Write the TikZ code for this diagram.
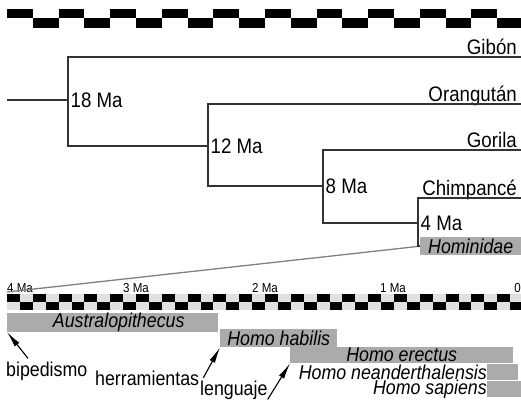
\documentclass[tikz,border=0pt]{standalone}
\usepackage{fontspec}
\setmainfont{Liberation Sans}[FakeStretch=0.89]
\usetikzlibrary{arrows.meta}

\begin{document}
\begin{tikzpicture}[x=1pt, y=-1pt,
  branch/.style={draw=black!80, line width=1.8pt},
  taxon/.style={anchor=base east, inner sep=0pt, xshift=-4pt, yshift=3pt, font=\fontsize{21}{21}\selectfont},
  age/.style={anchor=west, inner sep=2.5pt, font=\fontsize{21}{21}\selectfont},
  tick/.style={inner sep=0pt, font=\fontsize{13}{13}\selectfont},
  spanbar/.style={fill=black!33, inner sep=0pt, anchor=north west, font=\fontsize{20}{20}\selectfont\itshape},
  spname/.style={inner sep=0pt, anchor=east, font=\fontsize{20}{20}\selectfont\itshape},
  trait/.style={anchor=base west, inner sep=0pt, font=\fontsize{20}{20}\selectfont},
  pointer/.style={-{Latex[length=16pt,width=6pt]}, line width=1.1pt},
  zoomline/.style={draw=black!50, line width=1.3pt}]
  \useasboundingbox (0,0) rectangle (521,404);
  % upper scale
  \foreach \i in {0,...,9} {
    \fill (7+51.6*\i,9) rectangle ++(25.8,9.5);
    \fill (32.8+51.6*\i,18.5) rectangle ++(25.8,9.5);
  }
  % tree
  \coordinate (root) at (7,100);
  \coordinate (n18) at (68,100);
  \coordinate (n12) at (208,146);
  \coordinate (n8)  at (323,186);
  \coordinate (n4)  at (418,223);
  \coordinate (gib) at (521,57);
  \coordinate (ora) at (521,104);
  \coordinate (gor) at (521,150);
  \coordinate (chi) at (521,198);
  \node[spanbar, minimum width=101pt, minimum height=18pt] (homin) at (420,237) {Hominidae};
  \node[taxon] (tgib) at (gib) {Gibón};
  \node[taxon] (tora) at (ora) {Orangután};
  \node[taxon] (tgor) at (gor) {Gorila};
  \node[taxon] (tchi) at (chi) {Chimpancé};
  \node[age] (a18) at (n18) {18 Ma};
  \node[age] (a12) at (n12) {12 Ma};
  \node[age] (a8)  at (n8)  {8 Ma};
  \node[age] (a4)  at (n4)  {4 Ma};
  % lower scale
  \node[tick, anchor=base west] (s4) at (7,292)   {4 Ma};
  \node[tick, anchor=base]      (s3) at (136,292) {3 Ma};
  \node[tick, anchor=base]      (s2) at (265,292) {2 Ma};
  \node[tick, anchor=base]      (s1) at (393,292) {1 Ma};
  \node[tick, anchor=base east] (s0) at (521,292) {0};
  \coordinate (t4) at (7,292);
  \draw[zoomline] (t4) -- (homin.west);
  \draw[branch] (root) -- (n18);
  \draw[branch] (gib) -| (n18) |- (n12);
  \draw[branch] (ora) -| (n12) |- (n8);
  \draw[branch] (gor) -| (n8) |- (n4);
  \draw[branch] (chi) -| (n4) |- (homin.west);
  \fill[black!12] (7,294) rectangle (521,310);
  \foreach \k in {0,...,19} {
    \fill (7+25.8*\k,294) rectangle ++(12.9,8);
    \fill (19.9+25.8*\k,302) rectangle ++(12.9,8);
  }
  % species ranges
  \node[spanbar, minimum width=211pt, minimum height=16pt] (austr) at (7,313)   {\hspace*{12pt}Australopithecus};
  \node[spanbar, minimum width=117pt, minimum height=18pt] (habil) at (220,329) {Homo habilis};
  \node[spanbar, minimum width=223pt, minimum height=16pt] (erect) at (290,347) {Homo erectus};
  \node[spanbar, minimum width=31pt,  minimum height=16pt] (neand) at (487,364) {};
  \node[spanbar, minimum width=34pt,  minimum height=16pt] (sapie) at (487,381) {};
  \node[spname] (tneand) at (neand.west) {Homo neanderthalensis};
  \node[spname] (tsapie) at (sapie.west) {Homo sapiens};
  % traits
  \node[trait] (bip)  at (6,376)   {bipedismo};
  \node[trait] (herr) at (95,385)  {herramientas};
  \node[trait] (leng) at (200,395) {lenguaje};
  \draw[pointer] ([xshift=22pt,yshift=3pt]bip.north west) -- (austr.south west);
  \draw[pointer] ([xshift=4pt]herr.east) -- (habil.south west);
  \draw[pointer] (leng.south east) -- (erect.south west);
\end{tikzpicture}
\end{document}
